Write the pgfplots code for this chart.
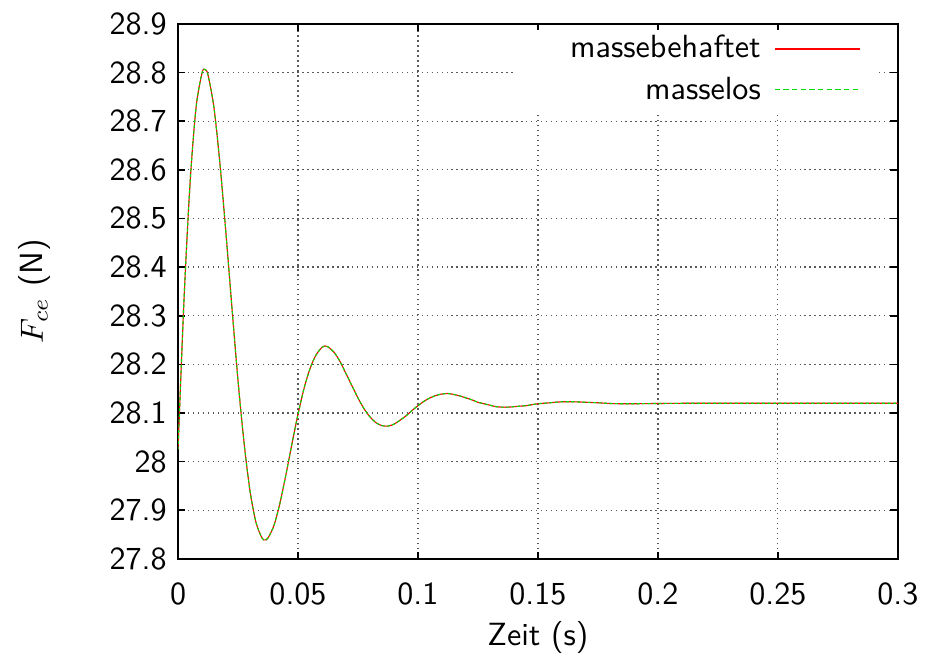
\documentclass[border=0pt]{standalone}
\usepackage{pgfplots}
\pgfplotsset{compat=1.18}
\usepackage{pgfplotstable}
\renewcommand{\familydefault}{\sfdefault}
\definecolor{gpred}{rgb}{1,0,0}
\definecolor{gpgreen}{RGB}{0,220,0}
\pgfplotstableread{
t F
0 28.025
0.0025 28.333
0.005 28.571
0.0075 28.727
0.01 28.799
0.01125 28.806
0.0125 28.795
0.015 28.727
0.0175 28.611
0.02 28.468
0.0225 28.315
0.025 28.167
0.0275 28.040
0.03 27.940
0.0325 27.875
0.035 27.843
0.03625 27.839
0.0375 27.843
0.04 27.869
0.0425 27.915
0.045 27.974
0.0475 28.037
0.05 28.097
0.0525 28.150
0.055 28.191
0.0575 28.219
0.06 28.235
0.06125 28.238
0.0625 28.236
0.065 28.225
0.0675 28.206
0.07 28.181
0.0725 28.156
0.075 28.131
0.0775 28.109
0.08 28.092
0.0825 28.080
0.085 28.074
0.0875 28.073
0.09 28.077
0.0925 28.085
0.095 28.094
0.0975 28.105
0.1 28.115
0.1025 28.124
0.105 28.131
0.1075 28.136
0.11 28.139
0.1125 28.140
0.115 28.138
0.1175 28.135
0.12 28.131
0.1225 28.127
0.125 28.122
0.1275 28.119
0.13 28.116
0.1325 28.113
0.135 28.112
0.1375 28.112
0.14 28.113
0.1425 28.114
0.145 28.115
0.1475 28.117
0.15 28.119
0.155 28.121
0.16 28.123
0.165 28.123
0.17 28.122
0.175 28.121
0.18 28.1195
0.185 28.119
0.19 28.119
0.2 28.1195
0.22 28.12
0.3 28.12
}\datatab
\begin{document}
\begin{tikzpicture}
\begin{axis}[
  scale only axis,
  width=224.4pt, height=166.8pt,
  xmin=0, xmax=0.3, ymin=27.8, ymax=28.9,
  xtick={0,0.05,0.1,0.15,0.2,0.25,0.3},
  ytick={27.8,27.9,28,28.1,28.2,28.3,28.4,28.5,28.6,28.7,28.8,28.9},
  scaled x ticks=false, scaled y ticks=false,
  /pgf/number format/assume math mode=true,
  xticklabel style={/pgf/number format/fixed, /pgf/number format/precision=2, yshift=-4pt},
  yticklabel style={/pgf/number format/fixed, /pgf/number format/precision=1},
  tick align=inside,
  major tick length=2.3pt,
  tick style={black, line width=0.5pt},
  axis line style={line width=0.6pt},
  grid=major,
  major grid style={black!65, line width=0.4pt, dash pattern=on 0.45pt off 1.1pt},
  xlabel={Zeit (s)},
  ylabel={$F_{ce}$ (N)},
  xlabel style={at={(axis description cs:0.5,-0.147)}, anchor=center},
  ylabel style={at={(axis description cs:-0.199,0.5)}, anchor=center},
  legend plot pos=right,
  legend cell align=right,
  legend style={at={(axis description cs:0.975,0.9888)}, anchor=north east,
    draw=none, fill=white, inner xsep=5.6pt, inner ysep=2pt, row sep=5pt, column sep=4.6pt,
    nodes={inner sep=0pt, text height=6.5pt, text depth=1.5pt}},
  legend image code/.code={\node[inner sep=0pt, anchor=west] at (0pt,0pt) {\hspace*{26.7pt}};},
]
\addplot[color=gpred, line width=0.35pt, smooth] table[x=t,y=F] {\datatab};
\addlegendentry{\makebox[70.7pt][r]{massebehaftet}}
\addplot[color=gpgreen, line width=0.35pt, dash pattern=on 1pt off 0.7pt, smooth] table[x=t,y=F] {\datatab};
\addlegendentry{\makebox[70.7pt][r]{masselos}}
\end{axis}
\draw[gpred, line width=0.4pt] ([xshift=-38.4pt, yshift=-7.84pt]current axis.north east) -- ([xshift=-11.8pt, yshift=-7.84pt]current axis.north east);
\draw[gpgreen, line width=0.4pt, dash pattern=on 1.7pt off 1pt] ([xshift=-38.4pt, yshift=-20.46pt]current axis.north east) -- ([xshift=-11.8pt, yshift=-20.46pt]current axis.north east);
\path (current axis.south west) ++(-55.5pt,-30.1pt) rectangle ([xshift=8.06pt,yshift=7.44pt]current axis.north east);
\end{tikzpicture}
\end{document}
